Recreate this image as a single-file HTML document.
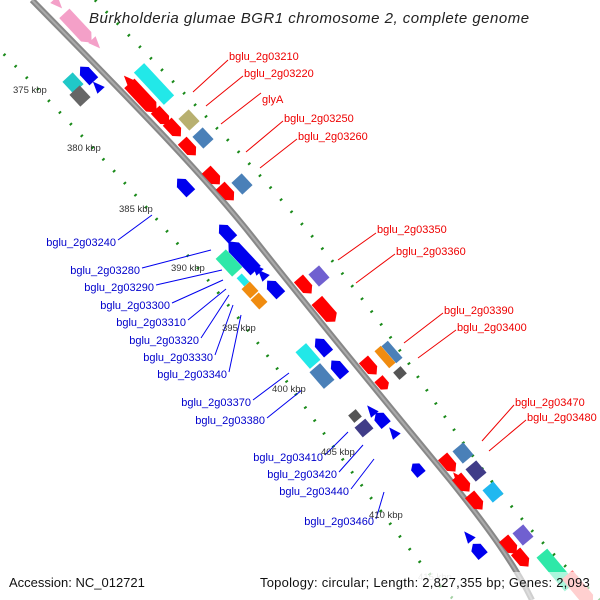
<!DOCTYPE html>
<html><head><meta charset="utf-8"><style>
body{margin:0;background:#fff;overflow:hidden;width:600px;height:600px}
svg{display:block}
text{font-family:"Liberation Sans",sans-serif}
.r{fill:#e00;font-size:11px}
.b{fill:#00c;font-size:11px;text-anchor:end}
.k{fill:#333;font-size:9.5px}
</style></head><body>
<svg width="600" height="600" viewBox="0 0 600 600" xmlns="http://www.w3.org/2000/svg" style="overflow:hidden">
<defs>
<polygon id="af" points="-10,-6 4,-6 10,0 4,6 -10,6"/>
<polygon id="al" points="-20,-7 12,-7 20,0 12,7 -20,7"/>
<rect id="bx" x="-8" y="-7" width="16" height="14"/>
<rect id="bl" x="-22" y="-7" width="44" height="14"/>
<polygon id="tr" points="-6,-5 6,0 -6,5"/>
</defs>
<!-- dotted rings -->
<g fill="none" stroke="#1a8a1a" stroke-width="3" stroke-dasharray="2 14">
<path d="M-30,20 C80,130 200,260 300,400 S440,590 455,600" />
<path d="M95,0 C200,110 320,230 420,380 S560,560 600,600"/>
</g>
<!-- backbone -->
<path d="M32,0 C125,95 200,170 255,240 C330,335 405,425 450,480 C490,530 515,565 532,600" fill="none" stroke="#888" stroke-width="6"/>
<path d="M32,0 C125,95 200,170 255,240 C330,335 405,425 450,480 C490,530 515,565 532,600" fill="none" stroke="#aaa" stroke-width="2"/>
<!-- genes -->
<g>
<use href="#al" transform="translate(78,28) rotate(47)" fill="#f4a0c8"/>
<use href="#tr" transform="translate(58,4) rotate(47)" fill="#f4a0c8"/>
<use href="#tr" transform="translate(96,44) rotate(47)" fill="#f4a0c8"/>
<use href="#bl" transform="translate(154,84) rotate(47)" fill="#22e8e8"/>
<use href="#tr" transform="translate(128,80) rotate(227)" fill="#f00"/>
<use href="#al" transform="translate(143,98) rotate(47)" fill="#f00"/>
<use href="#af" transform="translate(162,117) rotate(47)" fill="#f00"/>
<use href="#af" transform="translate(174,129) rotate(47)" fill="#f00"/>
<use href="#af" transform="translate(189,148) rotate(47)" fill="#f00"/>
<use href="#bx" transform="translate(189,120) rotate(47)" fill="#b8b070"/>
<use href="#bx" transform="translate(203,138) rotate(47)" fill="#4a80b8"/>
<use href="#bx" transform="translate(73,83) rotate(47)" fill="#20c8c8"/>
<use href="#bx" transform="translate(80,96) rotate(47)" fill="#666"/>
<use href="#af" transform="translate(87,74) rotate(227)" fill="#00e"/>
<use href="#tr" transform="translate(97,86) rotate(227)" fill="#00e"/>
<use href="#af" transform="translate(213,177) rotate(47)" fill="#f00"/>
<use href="#af" transform="translate(227,193) rotate(47)" fill="#f00"/>
<use href="#bx" transform="translate(242,184) rotate(47)" fill="#4a80b8"/>
<use href="#af" transform="translate(184,186) rotate(227)" fill="#00e"/>
<use href="#af" transform="translate(226,232) rotate(227)" fill="#00e"/>
<use href="#al" transform="translate(242,256) rotate(227)" fill="#00e"/>
<use href="#tr" transform="translate(256,268) rotate(227)" fill="#00e"/>
<use href="#tr" transform="translate(262,274) rotate(227)" fill="#00e"/>
<use href="#af" transform="translate(274,288) rotate(227)" fill="#00e"/>
<use href="#bl" transform="translate(229,263) rotate(47) scale(0.55,1)" fill="#2ee8a8"/>
<use href="#bx" transform="translate(243,280) rotate(47) scale(0.7,0.5)" fill="#22e8e8"/>
<use href="#bx" transform="translate(250,290) rotate(47) scale(0.8,0.8)" fill="#f08c10"/>
<use href="#bx" transform="translate(259,301) rotate(47) scale(0.8,0.8)" fill="#f08c10"/>
<use href="#bx" transform="translate(319,276) rotate(49)" fill="#7060d0"/>
<use href="#af" transform="translate(305,286) rotate(49)" fill="#f00"/>
<use href="#al" transform="translate(326,311) rotate(49) scale(0.7,1)" fill="#f00"/>
<use href="#bl" transform="translate(308,356) rotate(49) scale(0.5,1)" fill="#22e8e8"/>
<use href="#af" transform="translate(322,346) rotate(229)" fill="#00e"/>
<use href="#af" transform="translate(338,368) rotate(229)" fill="#00e"/>
<use href="#bl" transform="translate(322,376) rotate(49) scale(0.5,1)" fill="#4a80b8"/>
<use href="#af" transform="translate(370,367) rotate(49)" fill="#f00"/>
<use href="#bx" transform="translate(385,357) rotate(49) scale(1.4,0.6)" fill="#f08c10"/>
<use href="#bx" transform="translate(392,352) rotate(49) scale(1.4,0.6)" fill="#4a80b8"/>
<use href="#bx" transform="translate(400,373) rotate(49) scale(0.6,0.7)" fill="#555"/>
<use href="#af" transform="translate(383,384) rotate(49) scale(0.7,0.9)" fill="#f00"/>
<use href="#bx" transform="translate(355,416) rotate(50) scale(0.6,0.7)" fill="#555"/>
<use href="#bx" transform="translate(364,428) rotate(50) scale(0.8,1)" fill="#403c88"/>
<use href="#tr" transform="translate(371,410) rotate(230)" fill="#00e"/>
<use href="#af" transform="translate(381,419) rotate(230) scale(0.8,1)" fill="#00e"/>
<use href="#tr" transform="translate(393,432) rotate(230)" fill="#00e"/>
<use href="#af" transform="translate(417,469) rotate(230) scale(0.7,0.9)" fill="#00e"/>
<use href="#bx" transform="translate(463,453) rotate(50)" fill="#4a80b8"/>
<use href="#af" transform="translate(449,464) rotate(50)" fill="#f00"/>
<use href="#tr" transform="translate(457,477) rotate(230)" fill="#f00"/>
<use href="#bx" transform="translate(476,471) rotate(50)" fill="#403c88"/>
<use href="#af" transform="translate(463,484) rotate(50)" fill="#f00"/>
<use href="#af" transform="translate(476,502) rotate(50)" fill="#f00"/>
<use href="#bx" transform="translate(493,492) rotate(50)" fill="#20b8f0"/>
<use href="#bx" transform="translate(523,535) rotate(50)" fill="#7060d0"/>
<use href="#af" transform="translate(510,546) rotate(50)" fill="#f00"/>
<use href="#af" transform="translate(522,559) rotate(50)" fill="#f00"/>
<use href="#bl" transform="translate(556,570) rotate(50)" fill="#2ee8a8"/>
<use href="#tr" transform="translate(468,536) rotate(230)" fill="#00e"/>
<use href="#af" transform="translate(478,550) rotate(230) scale(0.8,1)" fill="#00e"/>
<use href="#al" transform="translate(580,590) rotate(50)" fill="#f88"/>
</g>
<!-- red label lines -->
<g stroke="#e00" stroke-width="1">
<line x1="228" y1="60" x2="193" y2="92"/>
<line x1="243" y1="76" x2="206" y2="106"/>
<line x1="261" y1="93" x2="221" y2="124"/>
<line x1="283" y1="121" x2="246" y2="152"/>
<line x1="297" y1="139" x2="260" y2="168"/>
<line x1="376" y1="233" x2="338" y2="260"/>
<line x1="395" y1="254" x2="356" y2="283"/>
<line x1="443" y1="313" x2="404" y2="343"/>
<line x1="456" y1="330" x2="418" y2="358"/>
<line x1="514" y1="405" x2="482" y2="441"/>
<line x1="526" y1="420" x2="489" y2="451"/>
</g>
<g class="r">
<text x="229" y="60">bglu_2g03210</text>
<text x="244" y="77">bglu_2g03220</text>
<text x="262" y="103">glyA</text>
<text x="284" y="122">bglu_2g03250</text>
<text x="298" y="140">bglu_2g03260</text>
<text x="377" y="233">bglu_2g03350</text>
<text x="396" y="255">bglu_2g03360</text>
<text x="444" y="314">bglu_2g03390</text>
<text x="457" y="331">bglu_2g03400</text>
<text x="515" y="406">bglu_2g03470</text>
<text x="527" y="421">bglu_2g03480</text>
</g>
<!-- blue label lines -->
<g stroke="#00e" stroke-width="1">
<line x1="118" y1="240" x2="152" y2="215"/>
<line x1="142" y1="268" x2="211" y2="250"/>
<line x1="156" y1="285" x2="222" y2="270"/>
<line x1="172" y1="303" x2="223" y2="280"/>
<line x1="188" y1="320" x2="226" y2="289"/>
<line x1="201" y1="338" x2="229" y2="295"/>
<line x1="215" y1="355" x2="233" y2="305"/>
<line x1="229" y1="372" x2="241" y2="315"/>
<line x1="253" y1="400" x2="289" y2="373"/>
<line x1="267" y1="418" x2="302" y2="390"/>
<line x1="325" y1="455" x2="348" y2="432"/>
<line x1="339" y1="472" x2="363" y2="445"/>
<line x1="351" y1="489" x2="374" y2="459"/>
<line x1="376" y1="519" x2="384" y2="492"/>
</g>
<g class="b">
<text x="116" y="246">bglu_2g03240</text>
<text x="140" y="274">bglu_2g03280</text>
<text x="154" y="291">bglu_2g03290</text>
<text x="170" y="309">bglu_2g03300</text>
<text x="186" y="326">bglu_2g03310</text>
<text x="199" y="344">bglu_2g03320</text>
<text x="213" y="361">bglu_2g03330</text>
<text x="227" y="378">bglu_2g03340</text>
<text x="251" y="406">bglu_2g03370</text>
<text x="265" y="424">bglu_2g03380</text>
<text x="323" y="461">bglu_2g03410</text>
<text x="337" y="478">bglu_2g03420</text>
<text x="349" y="495">bglu_2g03440</text>
<text x="374" y="525">bglu_2g03460</text>
</g>
<g class="k">
<text x="13" y="93">375 kbp</text>
<text x="67" y="151">380 kbp</text>
<text x="119" y="212">385 kbp</text>
<text x="171" y="271">390 kbp</text>
<text x="222" y="331">395 kbp</text>
<text x="272" y="392">400 kbp</text>
<text x="321" y="455">405 kbp</text>
<text x="369" y="518">410 kbp</text>
<text x="418" y="580" fill="#ccc">415 kbp</text>
</g>
<text x="89" y="23" font-size="15" font-style="italic" fill="#222" letter-spacing="0.5">Burkholderia glumae BGR1 chromosome 2, complete genome</text>
<rect x="0" y="572" width="600" height="28" fill="#fff" opacity="0.6"/>
<text x="9" y="587" font-size="13" fill="#111">Accession: NC_012721</text>
<text x="590" y="587" font-size="13" fill="#111" text-anchor="end" letter-spacing="0.25">Topology: circular; Length: 2,827,355 bp; Genes: 2,093</text>
</svg>
</body></html>
